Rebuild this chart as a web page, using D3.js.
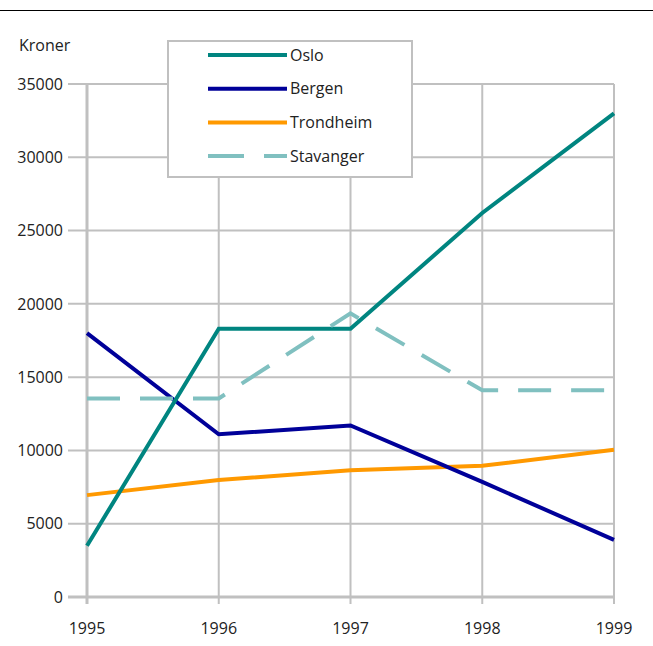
<!DOCTYPE html>
<html><head><meta charset="utf-8">
<script src="https://cdn.jsdelivr.net/npm/d3@7"></script>
<style>body{margin:0;background:#fff}svg{display:block}text{font-family:"Open Sans","Noto Sans",sans-serif;fill:#222}</style>
</head><body>
<script>
const years = [1995, 1996, 1997, 1998, 1999];
const oslo = [3500, 18300, 18300, 26200, 33000];
const bergen = [18000, 11100, 11700, 7850, 3900];
const trondheim = [6950, 7980, 8650, 8950, 10050];
const stavanger = [13550, 13550, 19350, 14100, 14100];
const yTicks = [0, 5000, 10000, 15000, 20000, 25000, 30000, 35000];
const seriesNames = ["Oslo", "Bergen", "Trondheim", "Stavanger"];
const seriesColors = ["#008580", "#000099", "#ff9900", "#80c0c0"];

const W = 653, H = 646;
const svg = d3.select("body").append("svg").attr("width", W).attr("height", H);
const x = d3.scaleLinear().domain([1995, 1999]).range([87, 614]);
const y = d3.scaleLinear().domain([0, 35000]).range([597, 84]);

svg.append("line").attr("x1", 0).attr("x2", W).attr("y1", 10.5).attr("y2", 10.5).attr("stroke", "#000").attr("stroke-width", 1);

const grid = "#c0c0c0";
svg.append("g").selectAll("line").data(yTicks).join("line")
  .attr("x1", 68).attr("x2", 614).attr("y1", d => y(d)).attr("y2", d => y(d))
  .attr("stroke", grid).attr("stroke-width", d => d === 0 ? 3 : 2);
svg.append("g").selectAll("line").data(years).join("line")
  .attr("x1", d => x(d)).attr("x2", d => x(d)).attr("y1", 84).attr("y2", 604)
  .attr("stroke", grid).attr("stroke-width", d => d === 1995 ? 3 : 2);

svg.append("g").selectAll("text").data(yTicks).join("text")
  .attr("x", 63).attr("y", d => y(d)).attr("dy", "0.36em").attr("text-anchor", "end")
  .attr("font-size", 16).text(d => d);
svg.append("g").selectAll("text").data(years).join("text")
  .attr("x", d => x(d)).attr("y", 634).attr("text-anchor", "middle")
  .attr("font-size", 16).text(d => d);
svg.append("text").attr("x", 19).attr("y", 51).attr("font-size", 16).text("Kroner");

const data = [oslo, bergen, trondheim, stavanger];
const line = d3.line().x((d, i) => x(years[i])).y(d => y(d));
[2, 1, 0, 3].forEach(k => {
  svg.append("path").attr("d", line(data[k])).attr("fill", "none")
    .attr("stroke", seriesColors[k]).attr("stroke-width", 4)
    .attr("stroke-dasharray", k === 3 ? "33,20" : null)
    .attr("stroke-linejoin", "miter");
});

const lg = svg.append("g");
lg.append("rect").attr("x", 168).attr("y", 41).attr("width", 244).attr("height", 136)
  .attr("fill", "#fff").attr("stroke", grid).attr("stroke-width", 2);
seriesNames.forEach((n, i) => {
  const yy = 55 + i * 33.7;
  lg.append("line").attr("x1", 208).attr("x2", 287).attr("y1", yy).attr("y2", yy)
    .attr("stroke", seriesColors[i]).attr("stroke-width", 4)
    .attr("stroke-dasharray", i === 3 ? "36,20" : null);
  lg.append("text").attr("x", 290).attr("y", yy).attr("dy", "0.36em").attr("font-size", 16).text(n);
});
</script>
</body></html>
